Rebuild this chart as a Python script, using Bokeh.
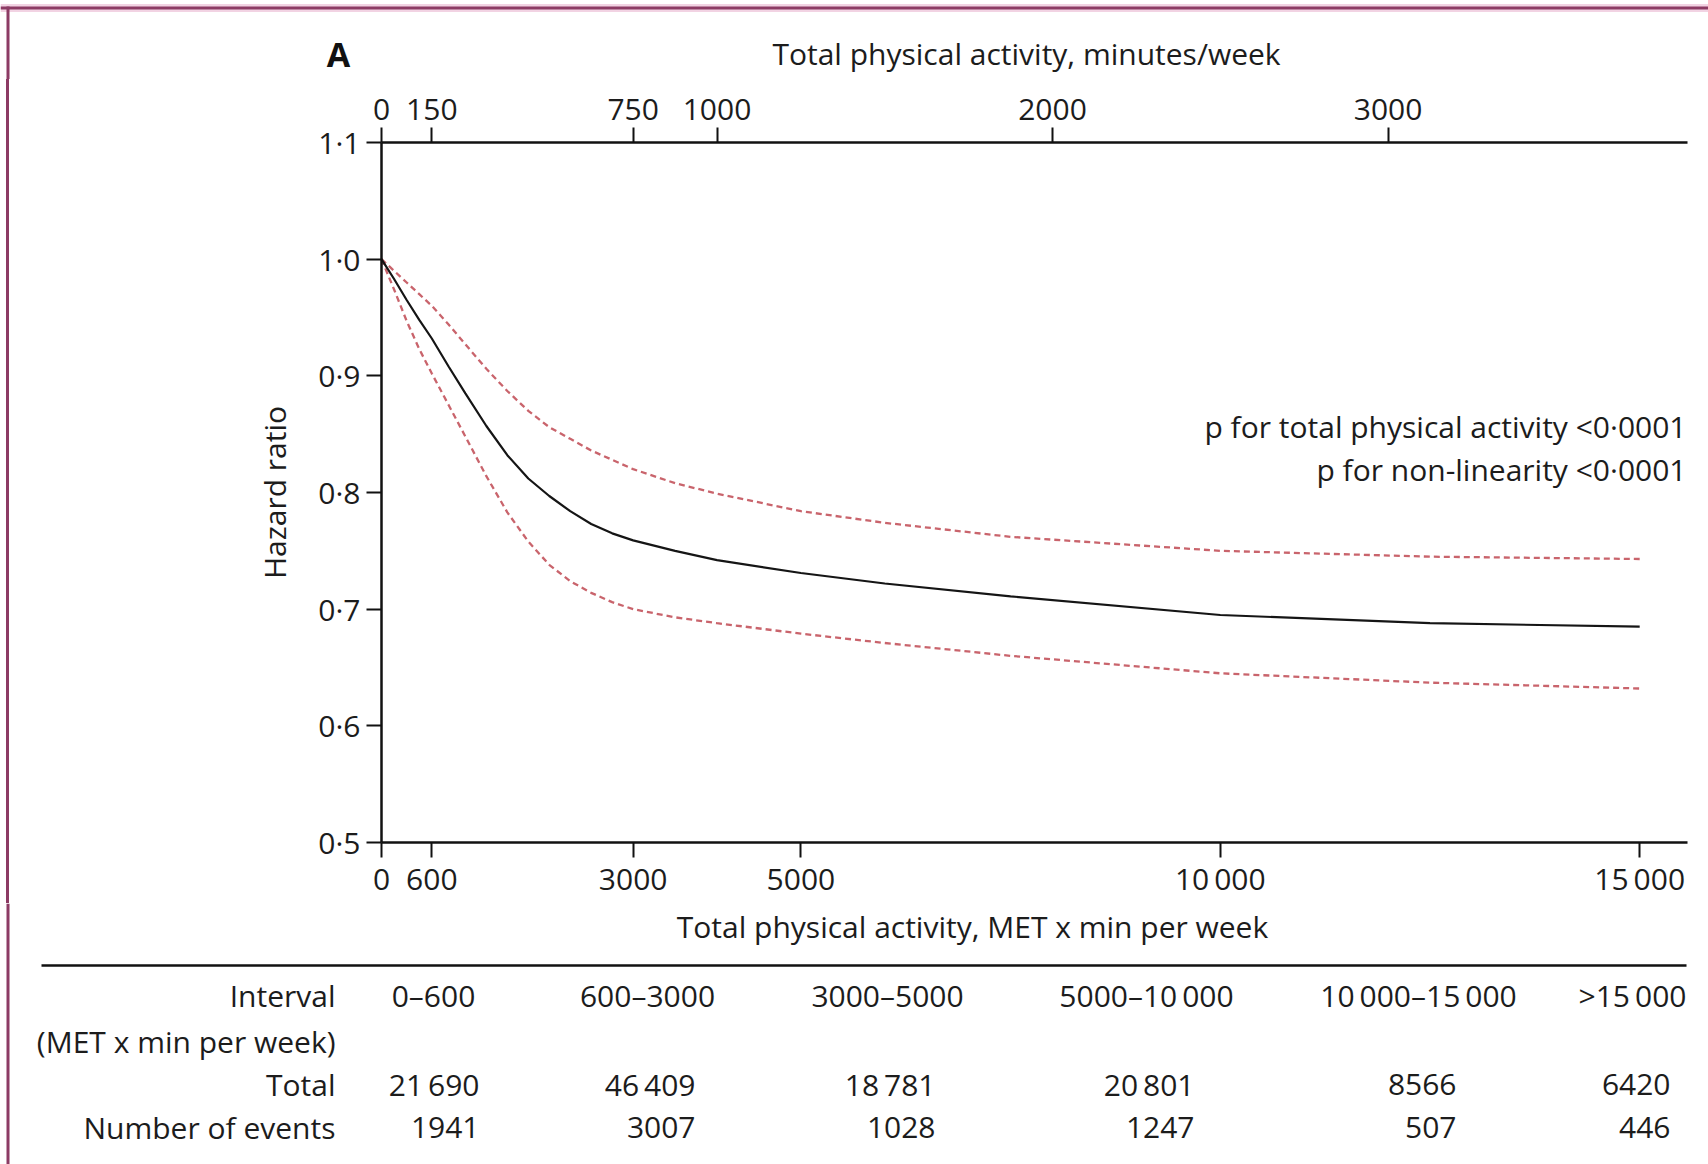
from bokeh.plotting import figure
from bokeh.models import Range1d, LinearAxis, FixedTicker, CustomJSTickFormatter
from bokeh.core.properties import value
from bokeh.embed import file_html
from bokeh.resources import INLINE

# Total physical activity (MET x min per week) and hazard ratio with 95% CI
met = [0, 150, 300, 450, 600, 800, 1000, 1250, 1500, 1750, 2000, 2250, 2500, 2750,
       3000, 3500, 4000, 5000, 6000, 7500, 10000, 12500, 15000]
hr = [1.000, 0.983, 0.965, 0.948, 0.932, 0.908, 0.885, 0.857, 0.832, 0.812, 0.797, 0.784,
      0.773, 0.765, 0.759, 0.750, 0.742, 0.731, 0.722, 0.711, 0.695, 0.688, 0.685]
hr_upper = [1.000, 0.990, 0.980, 0.970, 0.960, 0.944, 0.927, 0.906, 0.887, 0.870, 0.856,
            0.846, 0.836, 0.828, 0.820, 0.808, 0.799, 0.784, 0.774, 0.762, 0.750, 0.745, 0.743]
hr_lower = [1.000, 0.974, 0.947, 0.923, 0.902, 0.875, 0.848, 0.814, 0.783, 0.758, 0.738,
            0.724, 0.714, 0.706, 0.700, 0.693, 0.688, 0.679, 0.671, 0.660, 0.645, 0.637, 0.632]

met_ticks = [0, 600, 3000, 5000, 10000, 15000]
minute_ticks = [0, 150, 750, 1000, 2000, 3000]
hr_ticks = [0.5, 0.6, 0.7, 0.8, 0.9, 1.0, 1.1]

# Counts by activity interval
intervals = ["0\u2013600", "600\u20133000", "3000\u20135000", "5000\u201310\u2009000",
             "10\u2009000\u201315\u2009000", ">15\u2009000"]
totals = [21690, 46409, 18781, 20801, 8566, 6420]
events = [1941, 3007, 1028, 1247, 507, 446]
row_labels = ["Interval", "(MET x min per week)", "Total", "Number of events"]

FONT = "Open Sans"
TEXT_SIZE = "30px"
TICK_SIZE = "30px"
INK = "#1c1c1c"
CI_COLOR = "#c9646c"
FRAME_COLOR = "#8c3b64"
X_END = 15570
MET_PER_MINUTE = 4
PAGE_W = 1708
HEAD_H = 79          # page rows 0..79
CHART_BOTTOM = 903   # chart strip spans 79..903
PAGE_H = 1164


def fmt_count(n):
    s = str(n)
    return s[:-3] + "\u2009" + s[-3:] if n >= 10000 else s


def bare(fig):
    fig.xgrid.visible = False
    fig.ygrid.visible = False
    fig.outline_line_color = None
    fig.background_fill_color = "white"
    fig.border_fill_color = "white"
    return fig


def put_text(fig, xs, ys, texts, align, size=TEXT_SIZE, style="normal", color=INK):
    fig.text(x=xs, y=ys, text=texts, text_font=value(FONT), text_font_size=value(size),
             text_font_style=style, text_color=color, text_align=align,
             text_baseline="middle")


# Header strip: frame edge, panel letter and the minutes/week axis title
head = bare(figure(width=PAGE_W, height=HEAD_H, x_range=Range1d(0, PAGE_W),
                   y_range=Range1d(HEAD_H, 0), output_backend="svg", toolbar_location=None,
                   min_border=0, x_axis_location=None, y_axis_location=None))
head.segment(x0=[0], y0=[7.5], x1=[PAGE_W], y1=[7.5], line_color="#f2d3e3", line_width=8)
head.segment(x0=[0], y0=[7.5], x1=[PAGE_W], y1=[7.5], line_color=FRAME_COLOR, line_width=3)
head.segment(x0=[7.5], y0=[6], x1=[7.5], y1=[HEAD_H], line_color=FRAME_COLOR, line_width=3)
put_text(head, [338], [53], ["A"], "center", size="34px", style="bold", color="#111111")
put_text(head, [1026], [53], ["Total physical activity, minutes/week"], "center")

# Dose-response chart
p = bare(figure(width=PAGE_W - 9, height=CHART_BOTTOM - HEAD_H,
                x_range=Range1d(0, X_END), y_range=Range1d(0.5, 1.1),
                output_backend="svg", toolbar_location=None,
                x_axis_location=None, y_axis_location=None,
                min_border_left=372, min_border_right=21,
                min_border_top=142 - HEAD_H, min_border_bottom=CHART_BOTTOM - 842))
p.margin = (0, 0, 0, 9)
p.styles = {"box-shadow": f"-3px 0 0 0 {FRAME_COLOR}"}
p.extra_x_ranges = {"minutes": Range1d(0, X_END / MET_PER_MINUTE)}

thin_group = CustomJSTickFormatter(code="""
    const s = Math.round(tick).toString();
    return tick >= 10000 ? s.slice(0, -3) + '\\u2009' + s.slice(-3) : s;
""")
dot_fmt = CustomJSTickFormatter(code="return tick.toFixed(1).replace('.', '\\u00b7');")


def style_axis(ax):
    ax.axis_line_width = 2.5
    ax.axis_line_color = "#111111"
    ax.major_tick_line_width = 2
    ax.major_tick_line_color = "#111111"
    ax.major_tick_out = 15
    ax.major_tick_in = 0
    ax.minor_tick_out = 0
    ax.minor_tick_in = 0
    ax.major_label_text_font = FONT
    ax.major_label_text_font_size = TICK_SIZE
    ax.major_label_text_color = INK
    ax.axis_label_text_font = FONT
    ax.axis_label_text_font_size = TEXT_SIZE
    ax.axis_label_text_font_style = "normal"
    ax.axis_label_text_color = INK


left = LinearAxis(ticker=FixedTicker(ticks=hr_ticks), formatter=dot_fmt,
                  axis_label="Hazard ratio")
style_axis(left)
left.major_label_standoff = 6
left.axis_label_standoff = 20
p.add_layout(left, "left")

bottom = LinearAxis(ticker=FixedTicker(ticks=met_ticks), formatter=thin_group)
style_axis(bottom)
bottom.major_label_standoff = 0
p.add_layout(bottom, "below")

top = LinearAxis(x_range_name="minutes", ticker=FixedTicker(ticks=minute_ticks))
style_axis(top)
top.major_label_standoff = 8
p.add_layout(top, "above")

p.line(met, hr_upper, line_color=CI_COLOR, line_width=2.3, line_dash="6 4")
p.line(met, hr_lower, line_color=CI_COLOR, line_width=2.3, line_dash="6 4")
p.line(met, hr, line_color="#151515", line_width=2.2)

put_text(p, [15558, 15558], [0.857, 0.820],
         ["p for total physical activity <0\u00b70001", "p for non-linearity <0\u00b70001"],
         "right")

# Table strip under the chart, laid out in page pixels
t = bare(figure(width=PAGE_W, height=PAGE_H - CHART_BOTTOM, x_range=Range1d(0, PAGE_W),
                y_range=Range1d(PAGE_H, CHART_BOTTOM), output_backend="svg",
                toolbar_location=None, min_border=0,
                x_axis_location=None, y_axis_location=None))
t.segment(x0=[7.5], y0=[CHART_BOTTOM], x1=[7.5], y1=[PAGE_H], line_color=FRAME_COLOR,
          line_width=3)

row_y = [995, 1041, 1084, 1127]
col_centers = [433, 647, 887, 1146, 1418, 1632]
col_rights = [479, 695, 935, 1194, 1456, 1670]

put_text(t, [972], [926], ["Total physical activity, MET x min per week"], "center")
t.segment(x0=[41], y0=[965], x1=[1686], y1=[965], line_color="#111111", line_width=2.5)
put_text(t, [335] * 4, row_y, row_labels, "right")
put_text(t, col_centers, [row_y[0]] * 6, intervals, "center")
put_text(t, col_rights, [row_y[2]] * 6, [fmt_count(v) for v in totals], "right")
put_text(t, col_rights, [row_y[3]] * 6, [fmt_count(v) for v in events], "right")

open("out.html", "w").write(file_html([head, p, t], INLINE))
